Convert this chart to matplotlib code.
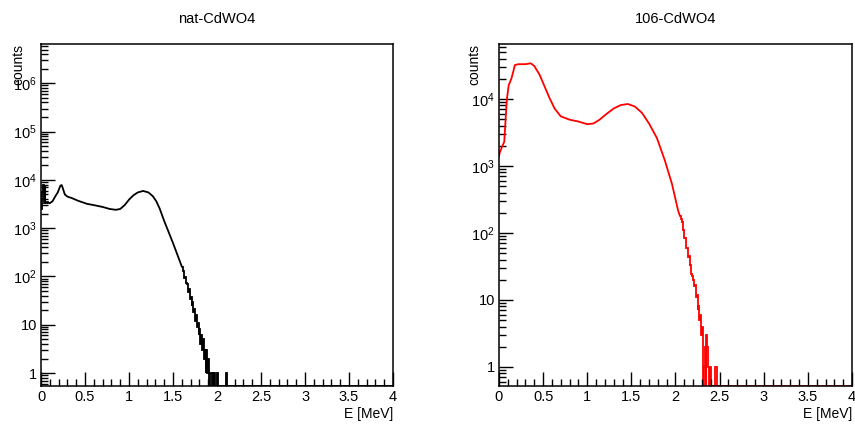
import numpy as np
import matplotlib
matplotlib.use('Agg')
import matplotlib.pyplot as plt
from matplotlib.ticker import MultipleLocator, FixedLocator, FuncFormatter, NullFormatter

plt.rcParams['font.family'] = ['Liberation Sans', 'DejaVu Sans']
plt.rcParams['mathtext.fontset'] = 'custom'
plt.rcParams['mathtext.rm'] = 'Liberation Sans'

titles = ['nat-CdWO4', '106-CdWO4']
bin_w = 0.01

# nat-CdWO4 : comb at the very start (0.01 MeV bins from 0)
nat_head = [2500, 5500, 8000, 3400, 7500, 3300, 3300, 3500, 3300, 3400]
# smooth part of the spectrum
nat_E = [0.10, 0.13, 0.16, 0.19, 0.22, 0.235, 0.25, 0.27, 0.30, 0.35, 0.42,
         0.52, 0.62, 0.70, 0.78, 0.85, 0.90, 0.95, 1.00, 1.05, 1.10, 1.16,
         1.22, 1.27, 1.31, 1.35, 1.40, 1.45, 1.50, 1.55, 1.60]
nat_counts = [3300, 3600, 4500, 5500, 7600, 7800, 6500, 5000, 4500, 4200, 3700,
              3200, 2950, 2750, 2500, 2400, 2500, 3000, 3900, 4800, 5500, 5900,
              5500, 4600, 3600, 2500, 1400, 830, 490, 280, 160]
# noisy tail (0.01 MeV bins from 1.60)
nat_tail_start = 1.60
nat_tail = [160, 128, 125, 95, 98, 72, 70, 48, 55, 35,
            38, 25, 30, 18, 21, 12, 16, 9, 11, 6,
            8, 4, 6, 3, 5, 2, 3, 1, 3, 1,
            2, 0, 1, 1, 0, 1, 0, 1, 0, 0,
            1, 0, 0, 0, 0, 0, 0, 0, 0, 0,
            1, 0]

# 106-CdWO4
enr_E = [0.0, 0.01, 0.04, 0.06, 0.075, 0.09, 0.11, 0.14, 0.16, 0.18, 0.22,
         0.30, 0.36, 0.40, 0.46, 0.52, 0.57, 0.63, 0.70, 0.80, 0.90, 1.00,
         1.07, 1.14, 1.22, 1.30, 1.38, 1.46, 1.54, 1.62, 1.70, 1.79, 1.88,
         1.96, 2.03, 2.05]
enr_counts = [1400, 1600, 2000, 2300, 5000, 10000, 16000, 20000, 25000, 32000, 33000,
              33000, 34000, 31000, 23000, 15000, 10500, 7200, 5500, 4900, 4600, 4200,
              4300, 4900, 6000, 7200, 8100, 8400, 7700, 6200, 4300, 2600, 1200,
              540, 215, 180]
enr_tail_start = 2.05
enr_tail = [180, 160, 145, 118, 112, 85, 84, 60, 60, 44,
            45, 32, 33, 24, 23, 20, 16, 17, 11, 12,
            7, 8, 5, 6, 3, 4, 0, 1, 2, 0,
            3, 2, 1, 0, 1, 0, 0, 0, 0, 0,
            1, 1, 0]

ylims = [(0.54, 6.5e6), (0.52, 6.6e4)]
top_decade = [6, 4]
colors = ['black', 'red']
ylab_x = [-0.045, -0.051]


def log_label(v, pos):
    if abs(v - 1) < 1e-9:
        return '1'
    if abs(v - 10) < 1e-9:
        return '10'
    return r'$\mathregular{10^{%d}}$' % int(round(np.log10(v)))


def draw_bins(ax, start, values, ymin, color):
    vals = np.array(values, dtype=float)
    nfull = int(round((4.0 - start) / bin_w))
    vals = np.concatenate([vals, np.zeros(nfull - len(vals))])
    edges = start + bin_w * np.arange(len(vals) + 1)
    vals = np.where(vals > 0, vals, ymin)
    ax.stairs(vals, edges, baseline=None, color=color, lw=1.3)


fig = plt.figure(figsize=(8.55, 4.24), dpi=100)
ax1 = fig.add_axes([0.048, 0.0896, 0.4117, 0.8066])
ax2 = fig.add_axes([0.5836, 0.0896, 0.4129, 0.8066])

for i, ax in enumerate([ax1, ax2]):
    ax.set_yscale('log', nonpositive='clip')
    ax.set_ylim(*ylims[i])
    ax.set_xlim(0, 4)
    c = colors[i]
    if i == 0:
        ax.stairs(nat_head, bin_w * np.arange(len(nat_head) + 1), baseline=None,
                  color=c, lw=1.3)
        ax.plot(nat_E, nat_counts, color=c, lw=1.3)
        draw_bins(ax, nat_tail_start, nat_tail, ylims[i][0], c)
    else:
        ax.plot(enr_E, enr_counts, color=c, lw=1.3)
        draw_bins(ax, enr_tail_start, enr_tail, ylims[i][0], c)

    ax.set_title(titles[i], fontsize=10.5, pad=15)
    ax.xaxis.set_major_locator(MultipleLocator(0.5))
    ax.xaxis.set_minor_locator(MultipleLocator(0.1))
    ax.xaxis.set_major_formatter(FuncFormatter(lambda v, p: '%g' % v))

    # decade ticks only inside the visible range
    decades = [10.0 ** k for k in range(0, top_decade[i] + 1)]
    minors = [m * 10.0 ** k for k in range(-1, top_decade[i] + 1) for m in range(2, 10)]
    minors = [m for m in minors if ylims[i][0] <= m <= ylims[i][1]]
    ax.yaxis.set_major_locator(FixedLocator(decades))
    ax.yaxis.set_minor_locator(FixedLocator(minors))
    ax.yaxis.set_major_formatter(FuncFormatter(log_label))
    ax.yaxis.set_minor_formatter(NullFormatter())
    ax.tick_params(which='both', direction='in', top=False, right=False,
                   labelsize=10.5, width=1, pad=3)
    ax.tick_params(which='major', length=10)
    ax.tick_params(which='minor', length=5)
    for s in ax.spines.values():
        s.set_linewidth(1.1)

    ax.set_xlabel('E [MeV]', loc='right', fontsize=10)
    ax.xaxis.set_label_coords(1.0, -0.062)
    ax.set_ylabel('counts', loc='top', fontsize=10)
    ax.yaxis.set_label_coords(ylab_x[i], 1.0)

fig.savefig('out.png', dpi=100)
